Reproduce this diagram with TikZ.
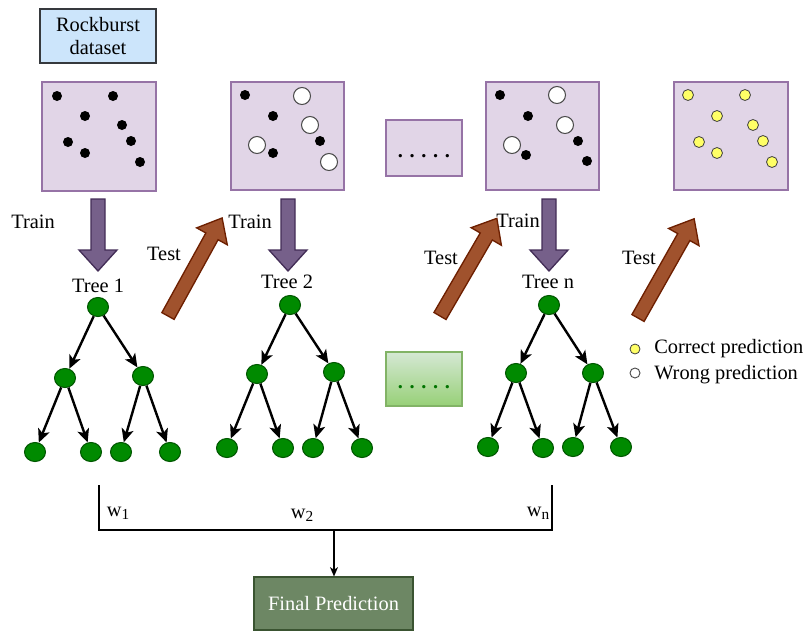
\documentclass[tikz,border=0pt]{standalone}
\usepackage{fontspec}
\setmainfont{Liberation Serif}
\usetikzlibrary{arrows.meta,shapes.geometric}
\definecolor{boxblue}{HTML}{CCE5FB}
\definecolor{boxblueline}{HTML}{36393D}
\definecolor{lilac}{HTML}{E1D5E7}
\definecolor{lilacline}{HTML}{9673A6}
\definecolor{trainfill}{HTML}{76608A}
\definecolor{trainline}{HTML}{432D57}
\definecolor{testfill}{HTML}{A0522D}
\definecolor{testline}{HTML}{6D1F00}
\definecolor{treefill}{HTML}{008A00}
\definecolor{treeline}{HTML}{005700}
\definecolor{gtop}{HTML}{D5E8D4}
\definecolor{gbot}{HTML}{97D077}
\definecolor{gline}{HTML}{82B366}
\definecolor{finalfill}{HTML}{6D8764}
\definecolor{finalline}{HTML}{3A5431}
\definecolor{dotyellow}{HTML}{FFFF66}
\newcommand\pxu{0.75pt}
\newcommand\fivedots{.\hspace{5pt}.\hspace{5pt}.\hspace{5pt}.\hspace{5pt}.}
\newcommand\wsub[1]{w\raisebox{-0.35ex}{\fontsize{11.5}{12}\selectfont #1}}
\tikzset{
  lilacbox/.style={draw=lilacline, fill=lilac, line width=1pt, inner sep=0pt},
  treenode/.style={ellipse, draw=treeline, fill=treefill, line width=0.8pt, inner sep=0pt,
    minimum width=21*\pxu, minimum height=19*\pxu},
  edge/.style={line width=1.8pt, -{Stealth[length=10pt,width=9pt,inset=2.5pt]}},
  trainarrow/.style={draw=trainline, fill=trainfill, line width=1pt, line join=miter},
  testarrow/.style={draw=testline, fill=testfill, line width=1pt, line join=miter},
  blackdot/.style={fill=black},
  whitedot/.style={draw=black!70, fill=white, line width=0.8pt},
  yellowdot/.style={draw=black!75, fill=dotyellow, line width=0.6pt},
  lbl/.style={inner sep=0pt},
}
\begin{document}
\begin{tikzpicture}[x=0.75pt,y=-0.75pt, font=\fontsize{15.3}{17.5}\selectfont]
\useasboundingbox (0,0) rectangle (807,632);

% dataset label
\node[draw=boxblueline, fill=boxblue, line width=1pt, minimum width=116*\pxu, minimum height=54*\pxu, align=center, inner sep=0pt] (ds) at (98,36) {Rockburst\\dataset};

% squares
\node[lilacbox, minimum width=114*\pxu, minimum height=109*\pxu] (s1) at (99,136.5) {};
\node[lilacbox, minimum width=113*\pxu, minimum height=108*\pxu] (s2) at (287.5,136) {};
\node[lilacbox, minimum width=76*\pxu, minimum height=56*\pxu] (sd) at (424,148) {};
\node[lilacbox, minimum width=113*\pxu, minimum height=108*\pxu] (s3) at (542.5,136) {};
\node[lilacbox, minimum width=114*\pxu, minimum height=108*\pxu] (s4) at (731,136) {};
\node[lbl] (sdt) at (424,156) {\textbf{\fivedots}};

% dots square 1
\foreach \p in {(57,96),(113,96),(85,116),(122,125),(68,142),(131,141),(85,153),(140,162)}
  \fill[blackdot] \p circle[radius=5];
% square 2
\foreach \p in {(245,95),(273,116),(320,141),(273,153)}
  \fill[blackdot] \p circle[radius=5];
\foreach \p in {(302,96),(310,125),(257,145),(329,162)}
  \draw[whitedot] \p circle[radius=8.5];
% square 3
\foreach \p in {(500,95),(528,116),(578,141),(526,155),(587,161)}
  \fill[blackdot] \p circle[radius=5];
\foreach \p in {(557,95),(565,125),(512,145)}
  \draw[whitedot] \p circle[radius=8.5];
% square 4
\foreach \p in {(688,95),(745,95),(717,116),(753,125),(699,142),(763,141),(717,153),(772,162)}
  \draw[yellowdot] \p circle[radius=5.5];

% train arrows
\foreach \cx in {98,288,549}{
  \begin{scope}[shift={(\cx,199)}, rotate=-90]
    \draw[trainarrow] (0,-7) -- (51,-7) -- (51,-19) -- (72,0) -- (51,19) -- (51,7) -- (0,7) -- cycle;
  \end{scope}
}
\node[lbl] (tr1) at (33,222) {Train};
\node[lbl] (tr2) at (250,222) {Train};
\node[lbl] (tr3) at (518,221) {Train};

% test arrows
\begin{scope}[shift={(168,316)}, rotate=61.1]
  \draw[testarrow] (0,-7) -- (91,-7) -- (91,-17.5) -- (112,0) -- (91,17.5) -- (91,7) -- (0,7) -- cycle;
\end{scope}
\begin{scope}[shift={(440,316)}, rotate=59.8]
  \draw[testarrow] (0,-7) -- (92,-7) -- (92,-17.5) -- (113,0) -- (92,17.5) -- (92,7) -- (0,7) -- cycle;
\end{scope}
\begin{scope}[shift={(638,318)}, rotate=60.5]
  \draw[testarrow] (0,-7) -- (93,-7) -- (93,-17.5) -- (114,0) -- (93,17.5) -- (93,7) -- (0,7) -- cycle;
\end{scope}
\node[lbl] (te1) at (164,254) {Test};
\node[lbl] (te2) at (441,258) {Test};
\node[lbl] (te3) at (639,258) {Test};

% tree labels
\node[lbl] (tl1) at (98,286) {Tree 1};
\node[lbl] (tl2) at (287,282) {Tree 2};
\node[lbl] (tl3) at (548,282) {Tree n};

% tree 1
\node[treenode] (a0) at (98,307) {};
\node[treenode] (a1) at (65,378) {};
\node[treenode] (a2) at (143,376) {};
\node[treenode] (a3) at (35,452) {};
\node[treenode] (a4) at (91,452) {};
\node[treenode] (a5) at (121,452) {};
\node[treenode] (a6) at (170,452) {};
% tree 2
\node[treenode] (b0) at (290,305) {};
\node[treenode] (b1) at (257,374) {};
\node[treenode] (b2) at (334,372) {};
\node[treenode] (b3) at (227,448) {};
\node[treenode] (b4) at (283,448) {};
\node[treenode] (b5) at (313,448) {};
\node[treenode] (b6) at (362,448) {};
% tree n
\node[treenode] (c0) at (549,305) {};
\node[treenode] (c1) at (516,373) {};
\node[treenode] (c2) at (593,373) {};
\node[treenode] (c3) at (488,447) {};
\node[treenode] (c4) at (543,448) {};
\node[treenode] (c5) at (573,447) {};
\node[treenode] (c6) at (621,447) {};

\foreach \t in {a,b,c}{
  \draw[edge] (\t0) -- (\t1);
  \draw[edge] (\t0) -- (\t2);
  \draw[edge] (\t1) -- (\t3);
  \draw[edge] (\t1) -- (\t4);
  \draw[edge] (\t2) -- (\t5);
  \draw[edge] (\t2) -- (\t6);
}

% green dots box
\node[draw=gline, top color=gtop, bottom color=gbot, line width=0.8pt, inner sep=0pt,
  minimum width=76*\pxu, minimum height=54*\pxu] (gb) at (424,379) {};
\node[lbl, text=green!45!black] (gbt) at (424,387) {\textbf{\fivedots}};

% legend
\draw[yellowdot] (635,349) circle[radius=5];
\draw[whitedot, line width=0.7pt] (635,373) circle[radius=5];
\node[lbl, anchor=west] (lg1) at (654,349) {Correct prediction};
\node[lbl, anchor=west] (lg2) at (654,375) {Wrong prediction};

% bracket
\coordinate (bl) at (99,485);
\coordinate (blb) at (99,530);
\coordinate (brb) at (552,530);
\coordinate (br) at (552,485);
\coordinate (bm) at (334,530);
\draw[line width=1pt] (bl) -- (blb) -- (brb) -- (br);
\node[lbl] (w1) at (118,513) {\wsub{1}};
\node[lbl] (w2) at (302,515) {\wsub{2}};
\node[lbl] (wn) at (538,513) {\wsub{n}};

% final
\node[draw=finalline, fill=finalfill, text=white, line width=0.8pt, inner sep=0pt,
  minimum width=159*\pxu, minimum height=53*\pxu] (fp) at (333.5,603.5) {Final Prediction};
\draw[line width=1pt, -{Stealth[length=7pt,width=6pt,inset=2pt]}] (bm) -- (fp.north -| bm);
\end{tikzpicture}
\end{document}
